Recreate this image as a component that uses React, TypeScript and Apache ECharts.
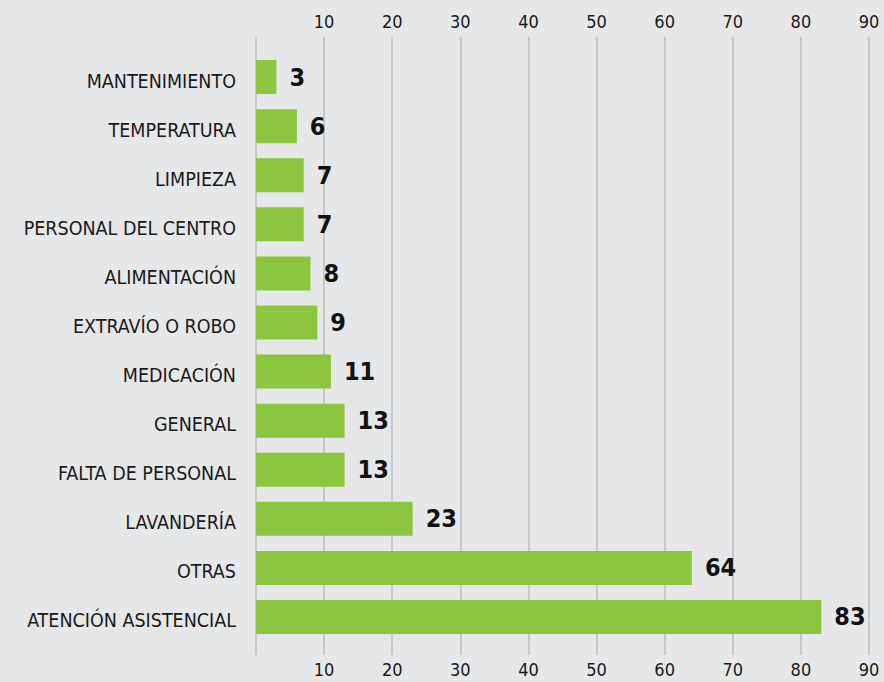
import React, { useEffect, useRef } from "react";
import * as echarts from "echarts";

const categories = [
  "MANTENIMIENTO",
  "TEMPERATURA",
  "LIMPIEZA",
  "PERSONAL DEL CENTRO",
  "ALIMENTACIÓN",
  "EXTRAVÍO O ROBO",
  "MEDICACIÓN",
  "GENERAL",
  "FALTA DE PERSONAL",
  "LAVANDERÍA",
  "OTRAS",
  "ATENCIÓN ASISTENCIAL",
];
const values = [3, 6, 7, 7, 8, 9, 11, 13, 13, 23, 64, 83];

const FONT = "'DejaVu Sans Condensed', 'Liberation Sans Narrow', Roboto, sans-serif";

export default function App() {
  const ref = useRef<HTMLDivElement>(null);
  useEffect(() => {
    const chart = echarts.init(ref.current!, null, { renderer: "svg" });
    const tickLabel = {
      fontFamily: FONT,
      fontSize: 18,
      color: "#1a1a1a",
      formatter: (v: number) => (v === 0 ? "" : String(v)),
    };
    chart.setOption({
      animation: false,
      backgroundColor: "#e6e7e8",
      grid: [
        { left: 256, right: 15, top: 37, bottom: 27 },
        { left: 256, right: 15, top: 52.5, height: 589 },
      ],
      xAxis: [
        {
          type: "value", gridIndex: 0, position: "top", min: 0, max: 90, interval: 10,
          axisLine: { show: false }, axisTick: { show: false },
          axisLabel: { ...tickLabel, margin: 7 },
          splitLine: { show: true, lineStyle: { color: "#bcbec0", width: 1.5 } },
        },
        {
          type: "value", gridIndex: 0, position: "bottom", min: 0, max: 90, interval: 10,
          axisLine: { show: false }, axisTick: { show: false },
          axisLabel: { ...tickLabel, margin: 5 },
          splitLine: { show: false },
        },
        {
          type: "value", gridIndex: 1, min: 0, max: 90, show: false,
        },
      ],
      yAxis: [
        { type: "value", gridIndex: 0, show: false },
        {
          type: "category", gridIndex: 1, data: categories, inverse: true,
          axisLine: { show: false }, axisTick: { show: false },
          axisLabel: {
            margin: 20,
            formatter: (v: string) => `{c|${v}}`,
            rich: {
              c: {
                fontFamily: FONT, fontSize: 19.5, color: "#1a1a1a",
                padding: [8, 0, 0, 0],
              },
            },
          },
        },
      ],
      series: [
        {
          type: "bar", xAxisIndex: 2, yAxisIndex: 1, data: values, barWidth: 34,
          itemStyle: { color: "#8cc63f" },
          label: {
            show: true, position: "right", distance: 13,
            fontFamily: FONT, fontSize: 25, fontWeight: "bold", color: "#111",
          },
        },
      ],
    });
    return () => chart.dispose();
  }, []);
  return <div ref={ref} style={{ width: 884, height: 682, position: "absolute", left: 0, top: 0 }} />;
}
